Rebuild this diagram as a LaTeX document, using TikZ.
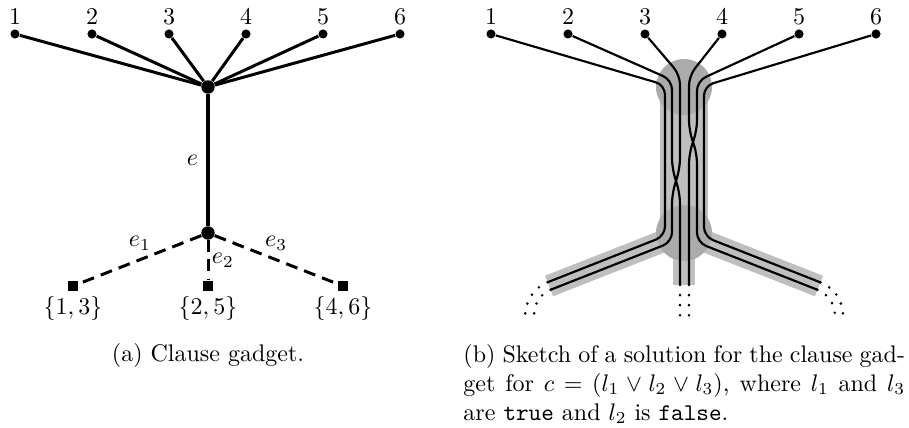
\documentclass[tikz,border=0pt]{standalone}
\usepackage{tikz}
\colorlet{bandgray}{black!25}
\colorlet{hubgray}{black!33}

\begin{document}
\begin{tikzpicture}[
x=0.4167pt, y=-0.4167pt,
dot/.style={circle, fill, inner sep=0pt, minimum size=3.8pt},
hubdot/.style={circle, fill, inner sep=0pt, minimum size=5.6pt},
setbox/.style={rectangle, fill, inner sep=0pt, minimum size=4.2pt},
edge/.style={line width=1.25pt},
heavy/.style={line width=1.7pt},
choice/.style={line width=1.25pt, dash pattern=on 5pt off 3pt},
band/.style={draw=bandgray, line width=#1},
wire/.style={line width=0.9pt, rounded corners=4pt},
tail/.style={line width=1.2pt, line cap=round, dash pattern=on 0pt off 4.2pt},
every label/.style={label distance=-1.5pt}
]
\useasboundingbox (0,0) rectangle (909,428);

% Clause gadget
\node[dot, label=above:$1$] (t1) at (15,34) {};
\node[dot, label=above:$2$] (t2) at (92,34) {};
\node[dot, label=above:$3$] (t3) at (169,34) {};
\node[dot, label=above:$4$] (t4) at (246,34) {};
\node[dot, label=above:$5$] (t5) at (323,34) {};
\node[dot, label=above:$6$] (t6) at (400,34) {};
\node[hubdot] (hub) at (208,87) {};
\node[hubdot] (low) at (208,233) {};
\node[setbox, label={below:{$\{1,3\}$}}] (s1) at (73,286) {};
\node[setbox, label={below:{$\{2,5\}$}}] (s2) at (208,286) {};
\node[setbox, label={below:{$\{4,6\}$}}] (s3) at (343,286) {};

\draw[edge] (t1) -- (hub);
\draw[edge] (t2) -- (hub);
\draw[edge] (t3) -- (hub);
\draw[edge] (t4) -- (hub);
\draw[edge] (t5) -- (hub);
\draw[edge] (t6) -- (hub);
\draw[heavy] (hub) -- node[left]{$e$} (low);
\draw[choice] (low) -- node[above]{$e_1$} (s1);
\draw[choice] (low) -- node[right, inner sep=1pt]{$e_2$} (s2);
\draw[choice] (low) -- node[above]{$e_3$} (s3);

\node[anchor=base] (capa) at (208,362) {(a) Clause gadget.};

% Solution sketch
\coordinate (bhub) at (684,87);
\coordinate (blow) at (684,233);
\coordinate (bl) at (549,286);
\coordinate (bm) at (684,285);
\coordinate (br) at (819,286);

\draw[band=9.2pt] (blow) -- (bl);
\draw[band=9.2pt] (blow) -- (br);
\draw[band=9.2pt] (blow) -- (bm);
\draw[band=19.6pt] (bhub) -- (blow);
\fill[hubgray] (bhub) circle[radius=28];
\fill[hubgray] (blow) circle[radius=28];

\node[dot, label=above:$1$] (b1) at (491,34) {};
\node[dot, label=above:$2$] (b2) at (568,34) {};
\node[dot, label=above:$3$] (b3) at (645,34) {};
\node[dot, label=above:$4$] (b4) at (722,34) {};
\node[dot, label=above:$5$] (b5) at (799,34) {};
\node[dot, label=above:$6$] (b6) at (876,34) {};

\coordinate (w1) at (547.5,282.3);
\coordinate (w2) at (680,285);
\coordinate (w3) at (550.5,289.8);
\coordinate (w4) at (817.5,289.8);
\coordinate (w5) at (689,285);
\coordinate (w6) at (820.5,282.4);

% Wires
\draw[wire] (b1) -- (665,85) -- (665,236) -- (w1);
\draw[wire] (b2) -- (672,80) -- (672,168) -- (680,194) -- (w2);
\draw[wire] (b3) -- (680,75) -- (680,168) -- (672,194) -- (672,242) -- (w3);
\draw[wire] (b4) -- (689,76) -- (689,130) -- (697,154) -- (697,242.4) -- (w4);
\draw[wire] (b5) -- (697,81) -- (697,130) -- (689,154) -- (w5);
\draw[wire] (b6) -- (704,86) -- (704,236.6) -- (w6);

\draw[tail] (w1) .. controls (533.5,287.8) and (525,302) .. (525,316);
\draw[tail] (w3) .. controls (541,293.5) and (534,303) .. (534,316);
\draw[tail] (w2) -- (680,318);
\draw[tail] (w5) -- (689,318);
\draw[tail] (w6) .. controls (834,287.8) and (843,300) .. (843,316);
\draw[tail] (w4) .. controls (827,293.5) and (835,303) .. (835,316);

\node[anchor=north west, inner sep=0pt, text width=184pt, align=justify] (capb) at (463,344)
{(b) Sketch of a solution for the clause gad-\linebreak get for $c = (l_1 \lor l_2 \lor l_3)$, where $l_1$ and $l_3$\linebreak are \texttt{true} and $l_2$ is \texttt{false}.};

\end{tikzpicture}
\end{document}
